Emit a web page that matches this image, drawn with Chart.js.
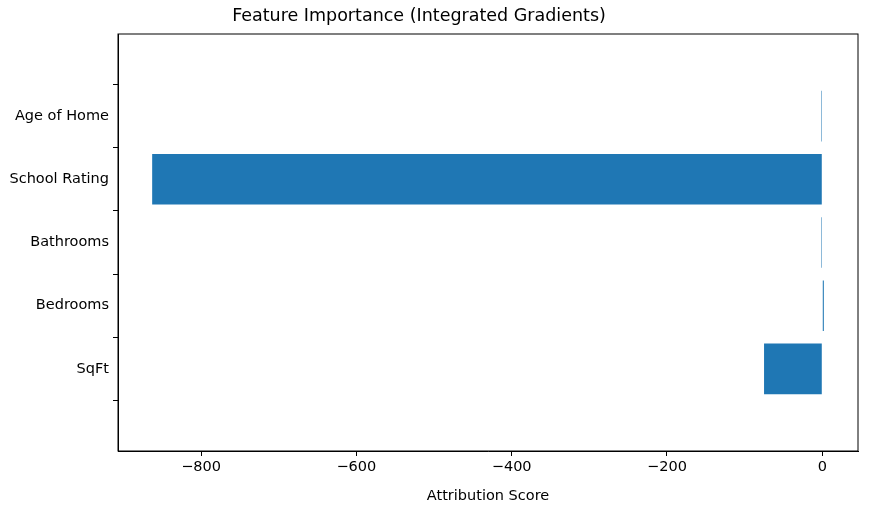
<!DOCTYPE html>
<html>
<head>
<meta charset="utf-8">
<script src="https://cdn.jsdelivr.net/npm/chart.js@4"></script>
<style>
  body { margin: 0; background: #fff; overflow: hidden; }
  #wrap { position: absolute; left: -20px; top: 0; width: 890px; height: 508px; }
</style>
</head>
<body>
<div id="wrap"><canvas id="chart"></canvas></div>
<script>
// Data
const features = ['Age of Home', 'School Rating', 'Bathrooms', 'Bedrooms', 'SqFt'];
const scores = [-1, -863, -1, 2, -75];
const xTicks = [-800, -600, -400, -200, 0];

const tickFont = { family: 'DejaVu Sans', size: 14.5 };

// draws the box around the plot area
const frame = {
    id: 'frame',
    afterDraw(chart) {
        const a = chart.chartArea, ctx = chart.ctx;
        ctx.save();
        ctx.strokeStyle = '#000';
        ctx.lineWidth = 1;
        ctx.strokeRect(a.left, a.top, a.right - a.left, a.bottom - a.top);
        ctx.restore();
    }
};

new Chart(document.getElementById('chart'), {
    type: 'bar',
    data: {
        datasets: [{
            data: features.map((f, i) => ({ x: scores[i], y: i })),
            backgroundColor: '#1f77b4',
            barPercentage: 0.8,
            categoryPercentage: 1.0,
            minBarLength: 1
        }]
    },
    options: {
        indexAxis: 'y',
        responsive: true,
        maintainAspectRatio: false,
        animation: false,
        layout: { padding: { right: 12, top: 0, bottom: 0, left: 0 } },
        plugins: {
            legend: { display: false },
            tooltip: { enabled: false },
            title: {
                display: true,
                text: 'Feature Importance (Integrated Gradients)',
                color: '#000',
                font: { family: 'DejaVu Sans', size: 17.5, weight: 'normal' },
                padding: { top: 6, bottom: 7 }
            }
        },
        scales: {
            x: {
                min: -907,
                max: 46,
                afterBuildTicks: s => { s.ticks = xTicks.map(v => ({ value: v })); },
                ticks: {
                    color: '#000',
                    font: tickFont,
                    padding: 3,
                    callback: v => String(v).replace('-', '\u2212')
                },
                grid: { drawOnChartArea: false, tickLength: 5, color: '#000' },
                border: { color: '#000' },
                title: {
                    display: true,
                    text: 'Attribution Score',
                    color: '#000',
                    font: tickFont,
                    padding: { top: 1, bottom: 3 }
                },
                afterFit: s => { s.height = 57; }
            },
            y: {
                type: 'linear',
                reverse: true,
                min: -0.64,
                max: 4.64,
                afterBuildTicks: s => { s.ticks = features.map((f, i) => ({ value: i })); },
                ticks: { color: '#000', font: tickFont, padding: 4, callback: v => features[v] },
                grid: { drawOnChartArea: false, tickLength: 5, color: '#000' },
                border: { color: '#000' },
                afterFit: s => { s.width = 138; }
            }
        }
    },
    plugins: [frame]
});
</script>
</body>
</html>
